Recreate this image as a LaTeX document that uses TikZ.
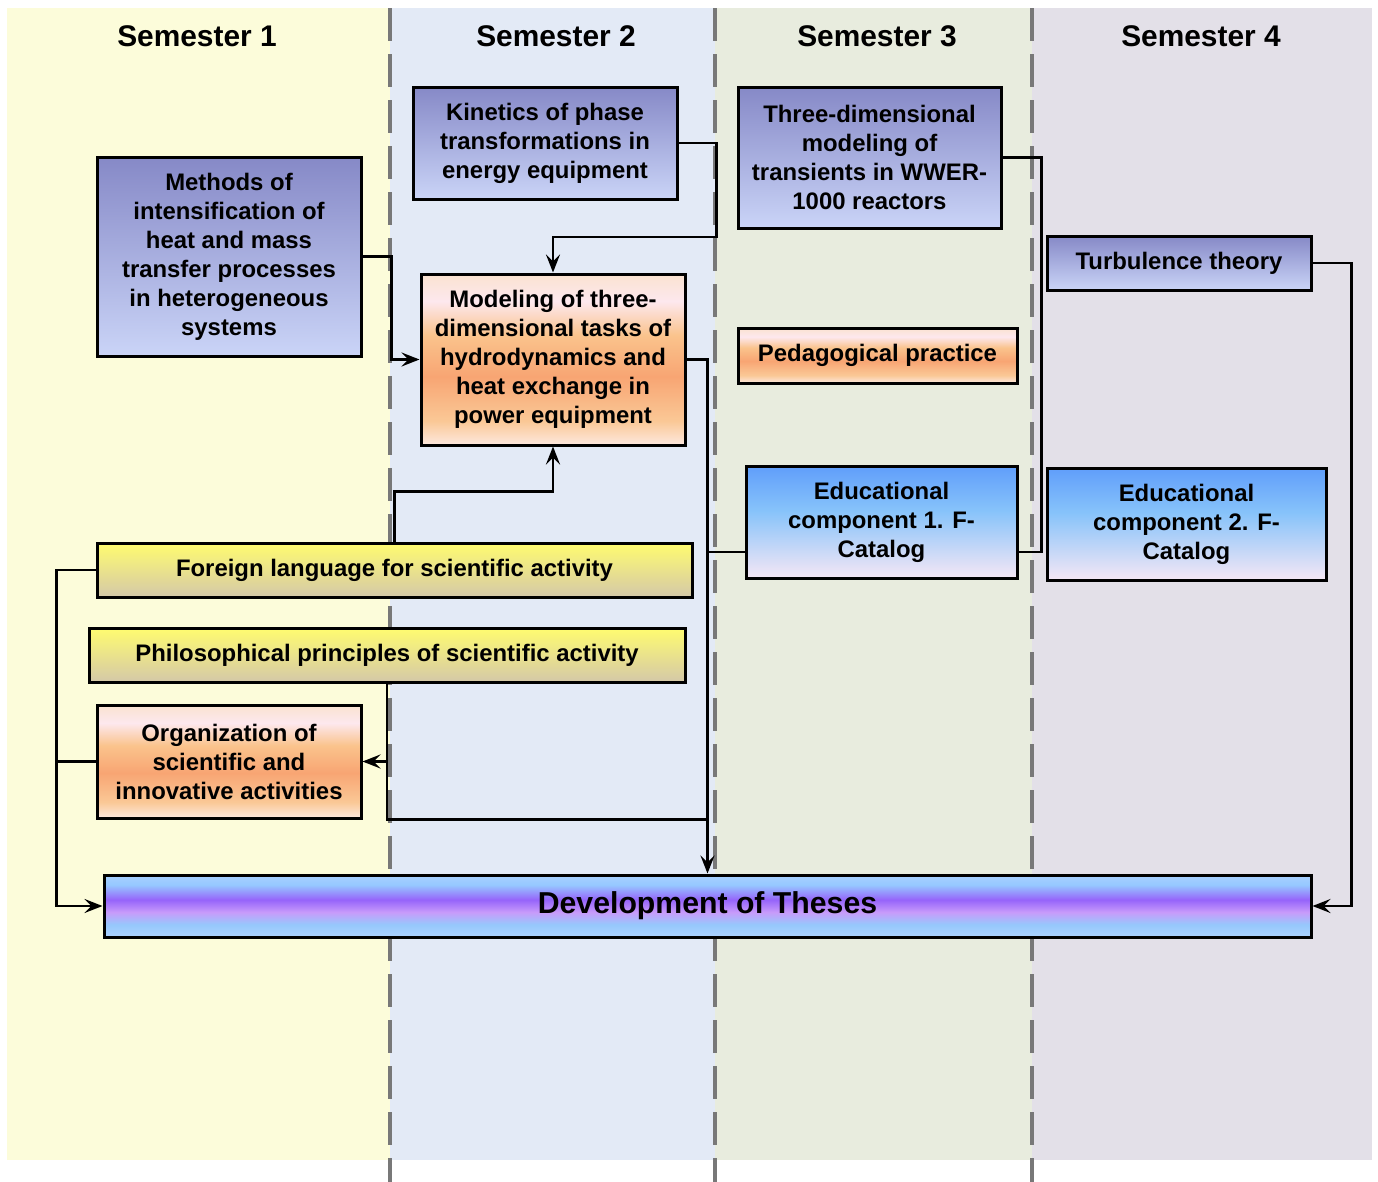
\documentclass[tikz,border=0pt]{standalone}
\usepackage{fontspec}
\setmainfont{Liberation Sans}
\usetikzlibrary{arrows.meta,positioning,calc}

\definecolor{semone}{RGB}{252,252,218}
\definecolor{semtwo}{RGB}{227,234,246}
\definecolor{semthree}{RGB}{232,236,222}
\definecolor{semfour}{RGB}{227,224,232}
\definecolor{divgray}{RGB}{120,120,120}
\definecolor{lilactop}{RGB}{134,137,199}
\definecolor{lilacbot}{RGB}{202,212,247}
\definecolor{yeltop}{RGB}{255,252,112}
\definecolor{yelbot}{RGB}{212,200,168}
\definecolor{orA}{RGB}{253,232,222}
\definecolor{orB}{RGB}{250,200,150}
\definecolor{orC}{RGB}{248,165,115}
\definecolor{orD}{RGB}{250,195,140}
\definecolor{orE}{RGB}{253,232,238}
\definecolor{orF}{RGB}{250,226,208}
\definecolor{skyA}{RGB}{245,231,245}
\definecolor{skyB}{RGB}{135,195,250}
\definecolor{skyC}{RGB}{96,158,250}
\definecolor{thA}{RGB}{172,210,255}
\definecolor{thB}{RGB}{150,200,252}
\definecolor{thC}{RGB}{200,155,250}
\definecolor{thD}{RGB}{150,100,250}
\definecolor{thE}{RGB}{150,200,255}
\definecolor{thF}{RGB}{168,208,255}

\pgfdeclareverticalshading{orangefill}{100bp}{color(0bp)=(orA);
  color(25bp)=(orA); color(32bp)=(orB); color(45bp)=(orC); color(57bp)=(orD);
  color(67bp)=(orE); color(75bp)=(orF); color(100bp)=(orF)}
\pgfdeclareverticalshading{skyfill}{100bp}{color(0bp)=(skyA);
  color(25bp)=(skyA); color(55bp)=(skyB); color(75bp)=(skyC); color(100bp)=(skyC)}
\pgfdeclareverticalshading{thesisfill}{100bp}{color(0bp)=(thA);
  color(25bp)=(thA); color(35bp)=(thB); color(45bp)=(thC); color(55bp)=(thD);
  color(67bp)=(thE); color(75bp)=(thF); color(100bp)=(thF)}

\begin{document}
\begin{tikzpicture}
[x=0.2mm,y=-0.2mm,
box/.style={draw=black,line width=0.6mm,inner sep=0pt,align=center,
  font=\fontsize{13.6}{16.5}\selectfont\bfseries},
lilacbox/.style={box,top color=lilactop,bottom color=lilacbot},
orangebox/.style={box,shade,shading=orangefill},
skybox/.style={box,shade,shading=skyfill},
yellowbox/.style={box,top color=yeltop,bottom color=yelbot},
sz/.style 2 args={minimum width=#1*0.2mm,minimum height=#2*0.2mm},
sem/.style={font=\fontsize{17}{20}\selectfont\bfseries},
divider/.style={divgray,line width=0.7mm,dash pattern=on 6.6mm off 2.6mm},
myedge/.style={line width=0.55mm},
arr/.style={myedge,-{Stealth[length=3.6mm,width=2.8mm,inset=1.4mm]}}]
\useasboundingbox (0,0) rectangle (1378,1182);
%% semester columns
\fill[semone] (7,8) rectangle (390,1160);
\fill[semtwo] (390,8) rectangle (715,1160);
\fill[semthree] (715,8) rectangle (1032,1160);
\fill[semfour] (1032,8) rectangle (1372,1160);
\foreach \xx in {390,715,1032}
  \draw[divider] (\xx,8) -- (\xx,1182);
\foreach \xx/\n in {197/1,556/2,877/3,1201/4}
  \node (sem\n) [sem] at (\xx,36) {Semester \n};
%%
\node (methods) [lilacbox,sz={264}{199}] at (229,256.5)
  {Methods of\\intensification of\\heat and mass\\transfer processes\\in heterogeneous\\systems};
\node (kinetics) [lilacbox,sz={264}{112}] at (545,143)
  {Kinetics of phase\\transformations in\\energy equipment};
\node (modeling) [orangebox,sz={264}{171}] at (553,359.5)
  {Modeling of three-\\dimensional tasks of\\hydrodynamics and\\heat exchange in\\power equipment};
\node (threedim) [lilacbox,sz={263}{141}] at (869.5,157.5)
  {Three-dimensional\\modeling of\\transients in WWER-\\1000 reactors};
\node (turbulence) [lilacbox,sz={264}{54}] at (1179,263) {Turbulence theory};
\node (pedagog) [orangebox,sz={279}{55}] at (877.5,355.5) {Pedagogical practice};
\node (edu1) [skybox,sz={271}{112}] at (881.5,522)
  {Educational\\component 1. F-\\Catalog};
\node (edu2) [skybox,sz={279}{112}] at (1186.5,524)
  {Educational\\component 2. F-\\Catalog};
\node (foreign) [yellowbox,sz={595}{54}] at (394.5,570)
  {Foreign language for scientific activity};
\node (philos) [yellowbox,sz={596}{54}] at (387,655)
  {Philosophical principles of scientific activity};
\node (organiz) [orangebox,sz={264}{113}] at (229,761.5)
  {Organization of\\scientific and\\innovative activities};
\node (theses) [box,shade,shading=thesisfill,sz={1207}{62},
  font=\fontsize{17.2}{20}\selectfont\bfseries] at (707.5,906) {Development of Theses};
%% links
\draw[arr] (methods.east) -- ++(29,0) |- (modeling.west);
\draw[arr] (kinetics.east) -- ++(38,0) -- ++(0,94) -| (modeling.north);
\draw[arr] (foreign.north) -- ++(0,-50) -| (modeling.south);
\draw[arr] (modeling.east) -| (theses.north);
\draw[myedge] ($(edu1.west)+(0,30)$) -- ++(-38,0);
\draw[myedge] (threedim.east) -- ++(39,0) |- ($(edu1.east)+(0,30)$);
\draw[myedge] (philos.south) |- (theses.north |- organiz.south);
\draw[arr] (philos.south |- organiz.east) -- (organiz.east);
\draw[arr] (turbulence.east) -- ++(39,0) |- (theses.east);
\draw[arr] (foreign.west) -- ++(-39,0) |- (theses.west);
\draw[myedge] (organiz.west) -- ++(-39,0);
%%
\end{tikzpicture}
\end{document}
